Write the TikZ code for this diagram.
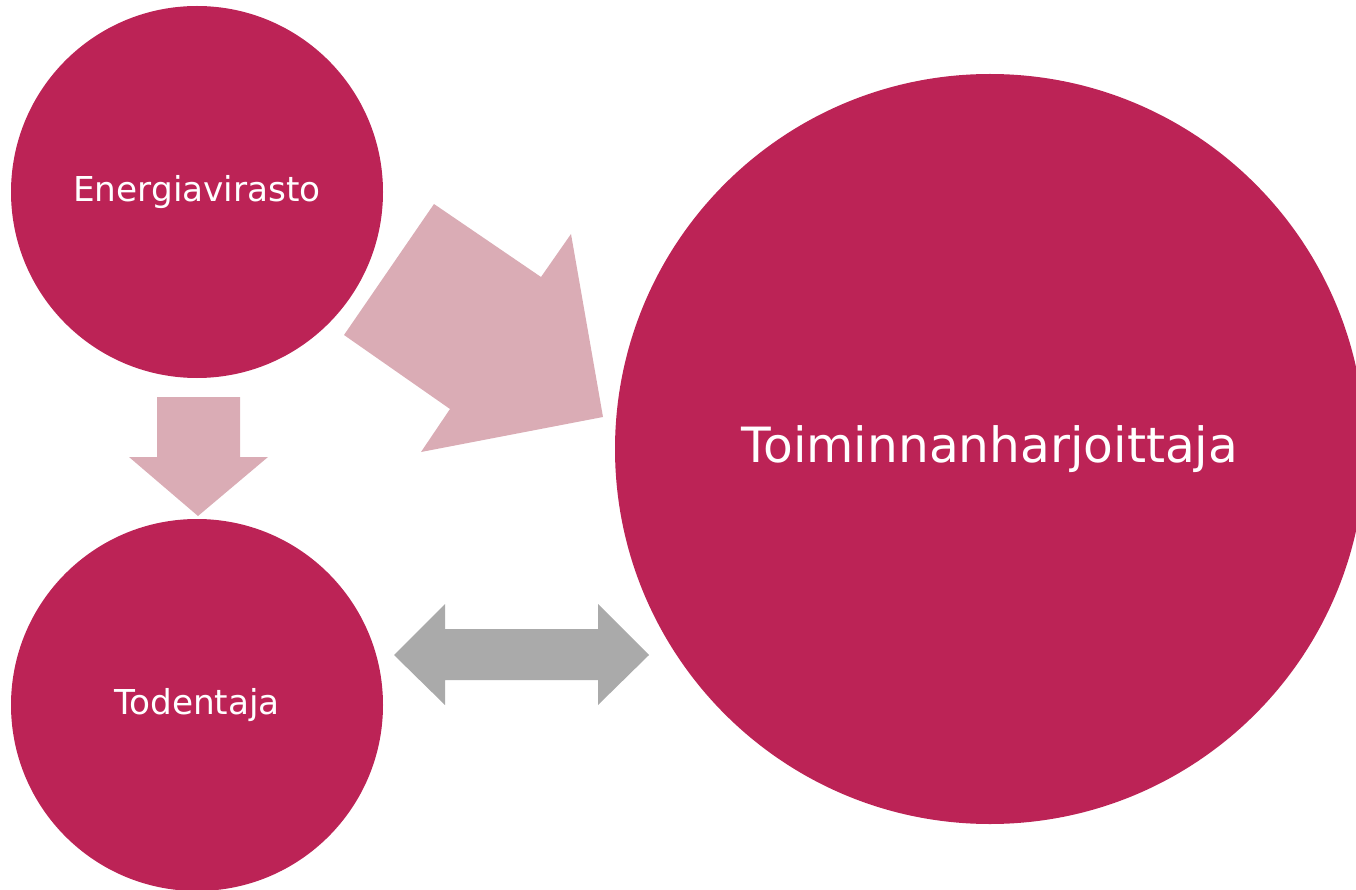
\documentclass[tikz,border=0pt]{standalone}
\usepackage{fontspec}
\setmainfont{DejaVu Sans}
\usetikzlibrary{calc}
\definecolor{viini}{HTML}{BC2356}
\definecolor{roosa}{HTML}{DAACB5}
\definecolor{harmaa}{HTML}{AAAAAA}
\tikzset{
	pallo/.style={circle, fill=viini, text=white, inner sep=0pt},
	nuoli/.style={fill=roosa, draw=none},
	kaksnuoli/.style={fill=harmaa, draw=none}
}

\begin{document}
\begin{tikzpicture}[x=1pt, y=-1pt]
	\useasboundingbox (0,0) rectangle (1356,890);
	\clip (0,0) rectangle (1356,890);
	\node [pallo, minimum size=372pt, font=\fontsize{34.3}{40}\selectfont] (ev) at (197,192) {\raisebox{-2pt}{Energiavirasto}};
	\node [pallo, minimum size=372pt, font=\fontsize{34.3}{40}\selectfont] (tod) at (197,705) {\raisebox{-2pt}{Todentaja}};
	\node [pallo, minimum size=750pt, font=\fontsize{48.6}{56}\selectfont] (toim) at (990,449) {\raisebox{-3pt}{Toiminnanharjoittaja}};
	% nuoli alas
	\fill [nuoli] (157,397) -- (240,397) -- (240,457) -- (268,457) -- (198,516)
		-- (129,457) -- (157,457) -- cycle;
	% vino nuoli
	\fill [nuoli] (434,204) -- (541,277) -- (571,234) -- (603,417) -- (421,452)
		-- (450,409) -- (344,335) -- cycle;
	% kaksisuuntainen
	\fill [kaksnuoli] (394,655) -- (445,604) -- (445,629) -- (598,629) -- (598,604)
		-- (649,655) -- (598,705) -- (598,680) -- (445,680) -- (445,705) -- cycle;
\end{tikzpicture}
\end{document}
